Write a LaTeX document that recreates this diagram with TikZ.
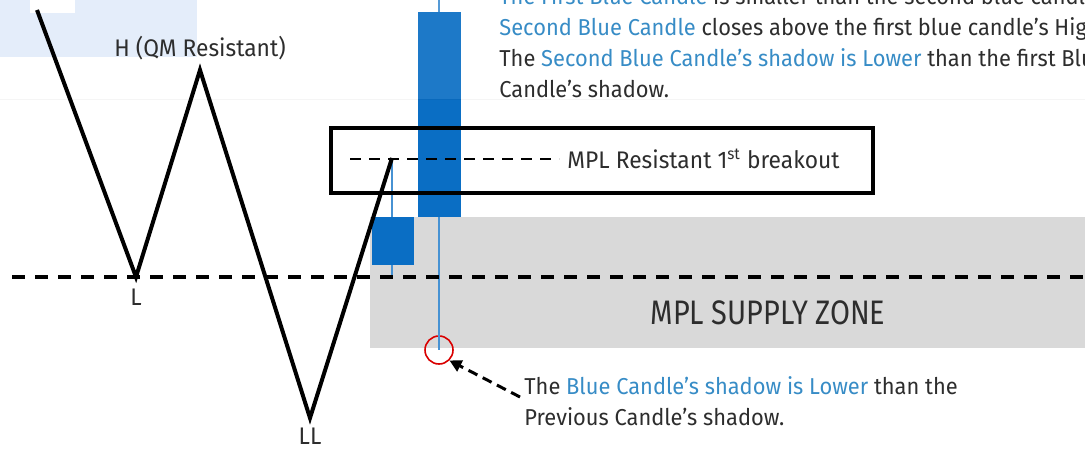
\documentclass[tikz,border=0pt]{standalone}
\usepackage{fontspec}
\setmainfont[FakeStretch=0.95]{Fira Sans}
\newfontfamily\zonefont[FakeStretch=0.85]{Fira Sans}
\usepackage{xcolor}
\usetikzlibrary{arrows.meta, positioning}

\definecolor{candleblue}{RGB}{10,110,196}
\definecolor{noteblue}{RGB}{55,140,198}
\definecolor{zonegray}{RGB}{217,217,217}
\definecolor{inkgray}{RGB}{45,45,45}
\definecolor{skyfill}{RGB}{226,236,250}
\newcommand{\hl}[1]{\textcolor{noteblue}{#1}}

\begin{document}
\begin{tikzpicture}[
    x=0.5pt, y=-0.5pt,
    zigzag/.style={draw=black, line width=2pt, line join=miter},
    candle/.style={fill=candleblue},
    wick/.style={draw=candleblue!75, line width=0.6pt},
    level/.style={draw=black, line width=1.7pt, dash pattern=on 6.5pt off 5pt},
    breakline/.style={draw=black, line width=1pt, dash pattern=on 5.5pt off 4pt},
    frame/.style={draw=black, line width=2pt, minimum width=271pt, minimum height=32.5pt, inner sep=0pt},
    note/.style={font=\fontsize{11.5}{15.5}\selectfont, text=inkgray, inner sep=0pt, align=left},
    ptlabel/.style={font=\fontsize{12}{14}\selectfont, text=inkgray, inner sep=0pt},
    zonelabel/.style={font=\zonefont\fontsize{17}{20}\selectfont, text=inkgray, inner sep=0pt},
    lowmark/.style={draw=red!85!black, line width=0.8pt, circle, minimum size=14pt, inner sep=0pt},
    pointer/.style={draw=black, line width=1.5pt, dash pattern=on 5pt off 3pt, -{Triangle[length=6pt, width=6pt]}}
]
    \useasboundingbox (0,0) rectangle (1085,449);
    \clip (0,0) rectangle (1085,449);

    % Background areas
    \fill[skyfill] (0,0) rectangle (197,57);
    \fill[white] (30,0) rectangle (75,13);
    \fill[zonegray] (370,217) rectangle (1085,348);

    % Swing points
    \coordinate (start) at (37,10);
    \coordinate (L) at (136,277);
    \coordinate (H) at (200,70);
    \coordinate (LL) at (310,418);
    \coordinate (peak) at (392,158);

    % Candles
    \node[lowmark] (low) at (439,350) {};
    \draw[wick] (peak) -- (392,278);
    \fill[candle] (372,217) rectangle (414,265);
    \draw[wick] (439,0) -- (low.center);
    \fill[candle] (418,12) rectangle (461,217);

    % Faint upper layer
    \fill[white, opacity=0.08] (0,0) rectangle (1085,99);
    \draw[black, opacity=0.04] (0,99) -- (1085,99);

    % Support line and price path
    \coordinate (levelstart) at (12,277);
    \coordinate (levelend) at (1085,277);
    \draw[level] (levelstart) -- (levelend);
    \draw[zigzag] (start) -- (L) -- (H) -- (LL) -- (peak);

    % Swing labels
    \node[ptlabel, above=5pt of H] (Hlabel) {H (QM Resistant)};
    \node[ptlabel, below=6pt of L] (Llabel) {L};
    \node[ptlabel, below=5pt of LL] (LLlabel) {LL};

    % Breakout box
    \node[frame] (mplbox) at (602,160.5) {};
    \node[ptlabel, anchor=west] (mpl) at (567,159) {MPL Resistant 1\textsuperscript{st} breakout};
    \coordinate (mplstart) at (350,159);
    \draw[breakline] (mplstart) -- ([xshift=-4pt]mpl.west);

    % Supply zone
    \node[zonelabel] (zone) at (768,313) {MPL SUPPLY ZONE};

    % Notes
    \node[note, anchor=north west] (topnote) at (499,-14) {\hl{The First Blue Candle} is smaller than the second blue candle.\\
        \hl{Second Blue Candle} closes above the first blue candle's High\\
        The \hl{Second Blue Candle's shadow is Lower} than the first Blue\\
        Candle's shadow.};
    \node[note, anchor=north west] (lownote) at (524,376) {The \hl{Blue Candle's shadow is Lower} than the\\
        Previous Candle's shadow.};
    \draw[pointer] ([xshift=-2pt, yshift=2pt]lownote.west) -- (low.south east);

\end{tikzpicture}
\end{document}
